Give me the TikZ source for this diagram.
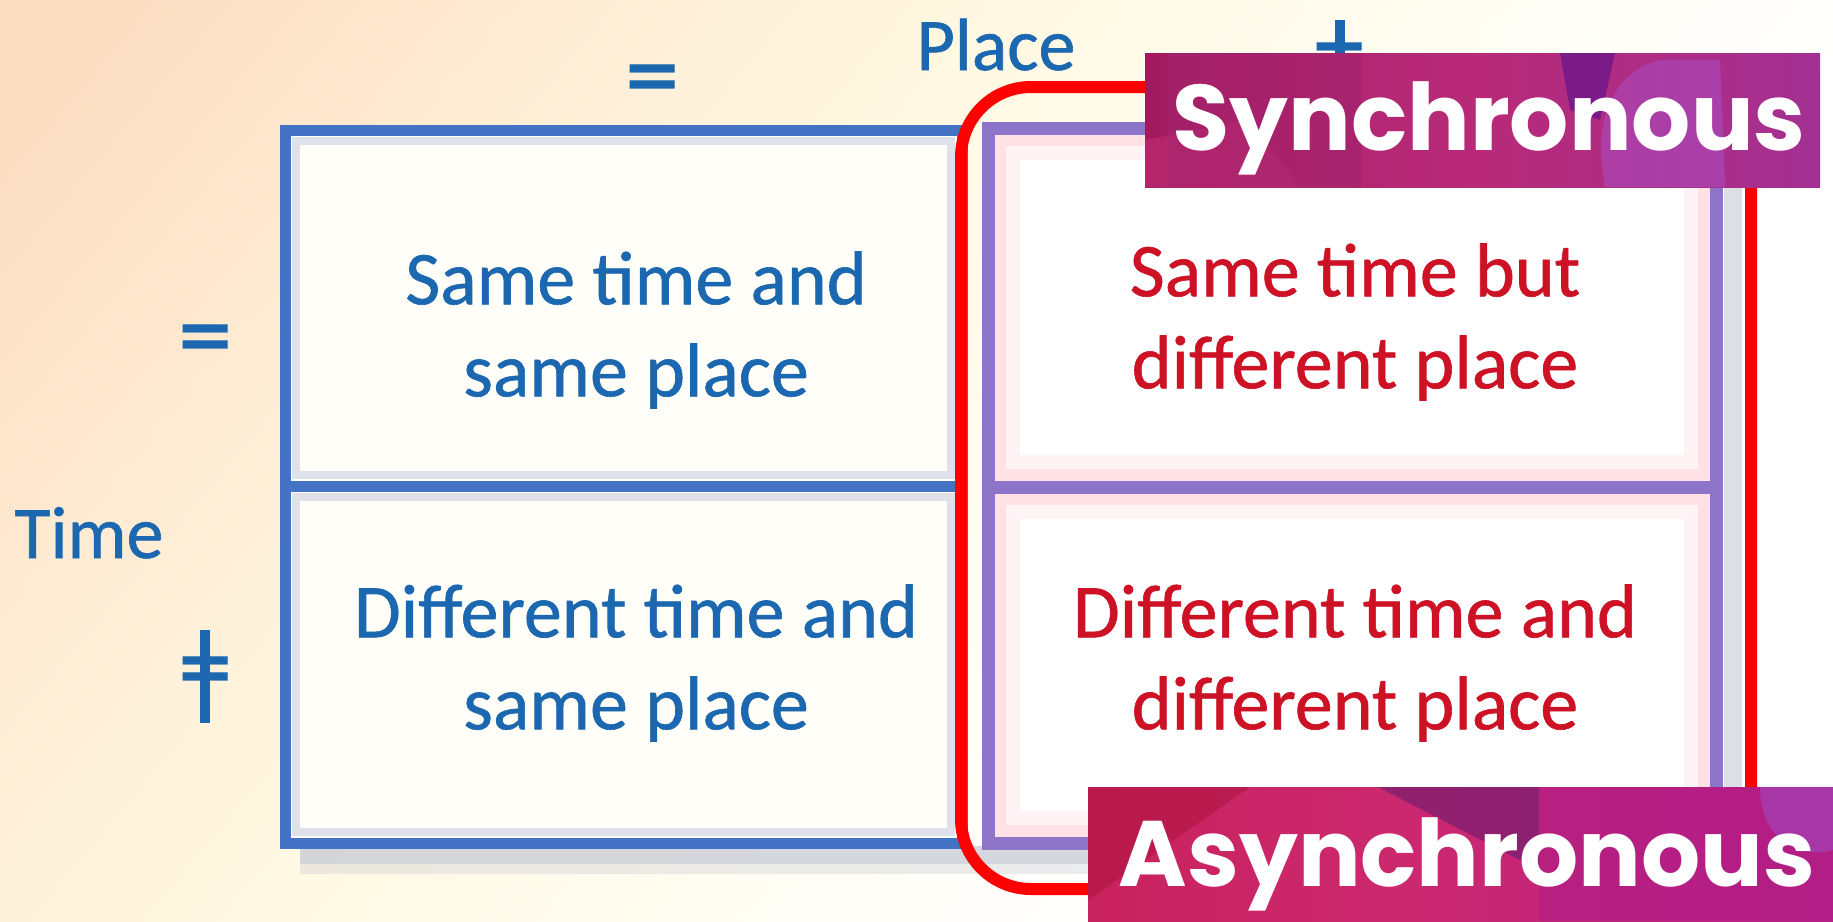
\documentclass[tikz,border=0pt]{standalone}
\usepackage{fontspec}
\setmainfont{Carlito}
\newfontfamily\cellfont{Carlito}[FakeBold=0.8]
\newfontfamily\popfont{Poppins}
\newfontfamily\symfont{DejaVu Sans}
\definecolor{txtblue}{RGB}{28,104,176}
\definecolor{txtred}{RGB}{206,18,38}
\definecolor{gridblue}{RGB}{68,114,196}
\definecolor{gridpurple}{RGB}{140,116,200}
\definecolor{glowpink}{RGB}{255,196,206}
\definecolor{glowgray}{RGB}{200,200,224}
\definecolor{shadowgray}{RGB}{198,202,212}
\definecolor{bgA}{RGB}{252,222,194}
\definecolor{bgA2}{RGB}{254,236,212}
\definecolor{bgB}{RGB}{255,248,226}
\definecolor{bgC}{RGB}{255,253,244}
\definecolor{cellcream}{RGB}{255,254,248}
\definecolor{synA}{RGB}{160,24,92}
\definecolor{synB}{RGB}{184,42,120}
\definecolor{synC}{RGB}{142,54,174}
\definecolor{synD}{RGB}{200,50,120}
\definecolor{synE}{RGB}{150,30,100}
\definecolor{synF}{RGB}{100,20,140}
\definecolor{synG}{RGB}{170,80,200}
\definecolor{asyA}{RGB}{196,26,72}
\definecolor{asyB}{RGB}{204,40,110}
\definecolor{asyC}{RGB}{164,28,150}
\definecolor{asyD}{RGB}{170,20,60}
\definecolor{asyE}{RGB}{120,30,110}
\definecolor{asyF}{RGB}{176,28,136}
\definecolor{asyG}{RGB}{160,70,190}
\pgfdeclarehorizontalshading{bgshade}{100bp}{color(0bp)=(bgA); color(18bp)=(bgA); color(30bp)=(bgA2); color(42bp)=(bgB); color(56bp)=(bgC); color(66bp)=(white); color(100bp)=(white)}
\pgfdeclarehorizontalshading{synshade}{100bp}{color(0bp)=(synA); color(50bp)=(synB); color(100bp)=(synC)}
\pgfdeclarehorizontalshading{asyshade}{100bp}{color(0bp)=(asyA); color(45bp)=(asyB); color(100bp)=(asyC)}
\tikzset{
  celltext/.style={align=center, font=\cellfont\fontsize{76}{92}\selectfont, inner sep=0pt},
  bluetext/.style={celltext, text=txtblue},
  redtext/.style={celltext, text=txtred},
  axislabel/.style={font=\cellfont\fontsize{74}{80}\selectfont, text=txtblue, inner sep=0pt, anchor=base},
  eqsign/.style={font=\symfont\bfseries\fontsize{72}{72}\selectfont, text=txtblue, inner sep=0pt},
  bannertext/.style={font=\popfont\bfseries\fontsize{93}{93}\selectfont, text=white, inner sep=0pt, anchor=base},
  bluegrid/.style={draw=gridblue, line width=11pt},
  purplegrid/.style={draw=gridpurple, line width=13pt},
}
\begin{document}
\begin{tikzpicture}[x=1pt,y=-1pt]
\useasboundingbox (0,0) rectangle (1833,921);
% background
\shade[shading=bgshade, shading angle=-40] (0,0) rectangle (1833,921);
% grid shadow
\fill[shadowgray, opacity=0.35] (300,846) rectangle (1748,874);
\fill[shadowgray, opacity=0.6] (300,846) rectangle (1742,864);
\fill[shadowgray, opacity=0.6] (1724,145) rectangle (1742,864);
% cell fills
\fill[cellcream] (285,130) rectangle (962,843);
\fill[white] (988,128) rectangle (1716,843);
% glows left
\draw[glowgray, line width=8pt, opacity=0.55] (296,141) rectangle (951,475);
\draw[glowgray, line width=8pt, opacity=0.55] (296,497) rectangle (951,832);
% glows right
\draw[glowpink, line width=12pt, opacity=0.5] (1000,140) rectangle (1704,475);
\draw[glowpink, line width=12pt, opacity=0.5] (1000,499) rectangle (1704,831);
\draw[glowpink, line width=14pt, opacity=0.2] (1013,153) rectangle (1691,462);
\draw[glowpink, line width=14pt, opacity=0.2] (1013,512) rectangle (1691,818);
% grid lines
\draw[bluegrid] (285,130) rectangle (962,843);
\draw[bluegrid] (285,486) -- (962,486);
\draw[purplegrid] (988,128) rectangle (1716,843);
\draw[purplegrid] (988,487) -- (1716,487);
% axis labels
\node[axislabel] (place) at (996,70) {Place};
\node[axislabel] (time) at (89,558) {Time};
\node[eqsign] (eqtop) at (653,82) {=};
\node[eqsign] (eqleft) at (206,342) {=};
\node[eqsign] (neqleft) at (206,674) {=};
\draw[txtblue, line width=10pt] (205,630) -- (205,723);
\node[eqsign] (neqtop) at (1340,60) {=};
\draw[txtblue, line width=10pt] (1340,20) -- (1340,114);
% cell texts
\node[bluetext] (c11) at (636,330) {Same time and\\same place};
\node[redtext] (c12) at (1355,322) {Same time but\\different place};
\node[bluetext] (c21) at (636,663) {Different time and\\same place};
\node[redtext] (c22) at (1355,663) {Different time and\\different place};
% red rounded frame
\draw[red, line width=12pt, rounded corners=70pt] (961,87) rectangle (1751,889);
% Synchronous banner
\node[shading=synshade, minimum width=675pt, minimum height=134pt, inner sep=0pt, anchor=north west] (syn) at (1145,53) {};
\begin{scope}
\clip (1145,53) rectangle (1820,187);
\fill[synA, opacity=0.8] (1145,53) rectangle (1168,187);
\fill[synD, opacity=0.5] (1145,140) -- (1250,120) -- (1300,187) -- (1145,187) -- cycle;
\fill[synE, opacity=0.35] (1168,53) rectangle (1362,187);
\fill[synF, opacity=0.7] (1560,53) -- (1615,53) -- (1600,120) -- (1570,110) -- cycle;
\fill[synG, opacity=0.5] (1605,187) .. controls (1590,110) and (1620,70) .. (1660,60) -- (1720,60) -- (1725,187) -- cycle;
\end{scope}
\node[bannertext] (syntext) at (1489,150) {Synchronous};
% Asynchronous banner
\node[shading=asyshade, minimum width=745pt, minimum height=134pt, inner sep=0pt, anchor=north west] (asy) at (1088,787) {};
\begin{scope}
\clip (1088,787) rectangle (1833,921);
\fill[asyD, opacity=0.5] (1088,787) -- (1250,787) -- (1088,900) -- cycle;
\fill[asyE, opacity=0.7] (1378,787) -- (1539,787) -- (1539,870) -- cycle;
\fill[asyF, opacity=0.6] (1539,787) rectangle (1833,921);
\fill[asyG, opacity=0.6] (1760,787) .. controls (1760,840) and (1800,860) .. (1833,850) -- (1833,787) -- cycle;
\end{scope}
\node[bannertext] (asytext) at (1467,886) {Asynchronous};
\end{tikzpicture}
\end{document}
